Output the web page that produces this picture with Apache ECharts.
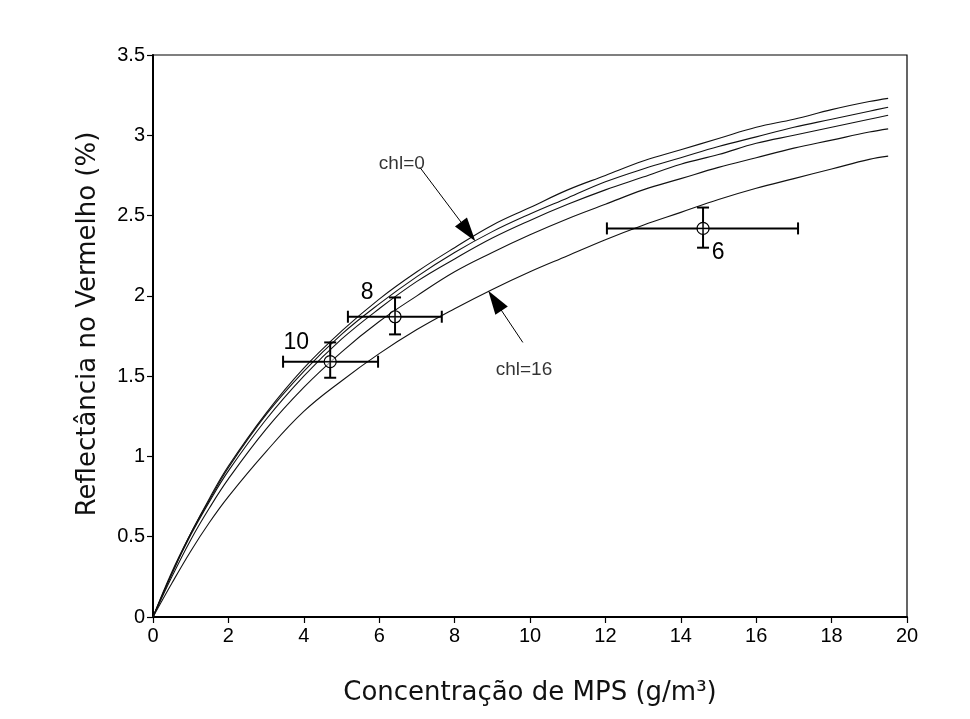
<!DOCTYPE html>
<html>
<head>
<meta charset="utf-8">
<script src="https://cdn.jsdelivr.net/npm/echarts@6/dist/echarts.min.js"></script>
<style>
  html, body { margin: 0; padding: 0; background: #fff; }
  #main { width: 970px; height: 719px; }
</style>
</head>
<body>
<div id="main"></div>
<script>
// concentração de MPS (g/m3)
var mps = [0, 0.5, 1, 1.5, 2, 3, 4, 5, 6, 7, 8, 9, 10, 11, 12, 13, 14, 15, 16, 17, 18, 19, 19.5];
// reflectância (%) das cinco curvas, de chl=0 (topo) até chl=16 (base)
var curva1 = [0, 0.28, 0.52, 0.74, 0.94, 1.27, 1.55, 1.78, 1.98, 2.15, 2.30, 2.44, 2.55, 2.66, 2.75, 2.84, 2.91, 2.98, 3.05, 3.10, 3.16, 3.21, 3.23];
var curva2 = [0, 0.27, 0.52, 0.73, 0.93, 1.26, 1.53, 1.76, 1.95, 2.12, 2.27, 2.40, 2.51, 2.61, 2.71, 2.79, 2.86, 2.93, 2.99, 3.05, 3.10, 3.15, 3.175];
var curva3 = [0, 0.27, 0.51, 0.72, 0.91, 1.23, 1.50, 1.73, 1.92, 2.09, 2.23, 2.36, 2.47, 2.57, 2.66, 2.74, 2.82, 2.88, 2.95, 3.00, 3.05, 3.10, 3.125];
var curva4 = [0, 0.25, 0.48, 0.68, 0.86, 1.17, 1.43, 1.65, 1.84, 2.00, 2.15, 2.27, 2.38, 2.48, 2.57, 2.66, 2.73, 2.80, 2.86, 2.92, 2.97, 3.02, 3.04];
var curva5 = [0, 0.21, 0.41, 0.59, 0.75, 1.03, 1.28, 1.47, 1.64, 1.79, 1.92, 2.04, 2.15, 2.25, 2.35, 2.44, 2.52, 2.60, 2.67, 2.73, 2.79, 2.85, 2.87];

// pontos medidos com barras de erro
var ptNomes = ['10', '8', '6'];
var ptX = [4.70, 6.42, 14.59];
var ptY = [1.59, 1.87, 2.42];
var ptXmin = [3.45, 5.17, 12.04];
var ptXmax = [5.97, 7.66, 17.11];
var ptYmin = [1.49, 1.76, 2.30];
var ptYmax = [1.71, 1.99, 2.55];

// anotações (texto e setas)
var anotTexto = ['chl=0', 'chl=16'];
var anotPos = [[6.60, 2.82], [9.84, 1.54]];
var setaInicio = [[7.08, 2.80], [9.81, 1.71]];
var setaFim = [[8.36, 2.40], [9.07, 1.97]];

var eixoX = { min: 0, max: 20, interval: 2 };
var eixoY = { min: 0, max: 3.5, interval: 0.5 };

function pares(ys) {
  var out = [];
  for (var i = 0; i < mps.length; i++) out.push([mps[i], ys[i]]);
  return out;
}

var curvas = [curva1, curva2, curva3, curva4, curva5];
var series = [];
for (var k = 0; k < curvas.length; k++) {
  series.push({
    name: 'curva' + (k + 1),
    type: 'line',
    data: pares(curvas[k]),
    smooth: 0.4,
    symbol: 'none',
    lineStyle: { color: '#111', width: 1.1 },
    z: 2
  });
}

// setas
var setas = [];
for (var s = 0; s < setaInicio.length; s++) {
  setas.push([{ coord: setaInicio[s] }, { coord: setaFim[s] }]);
}
series[0].markLine = {
  silent: true,
  symbol: ['none', 'triangle'],
  symbolSize: [15, 24],
  label: { show: false },
  lineStyle: { color: '#000', width: 1, type: 'solid' },
  data: setas
};

// pontos com barras de erro
var offsets = [[-34, -19], [-28, -24], [15, 24]];
var ptDados = [];
for (var p = 0; p < ptX.length; p++) {
  ptDados.push([ptX[p], ptY[p], ptXmin[p], ptXmax[p], ptYmin[p], ptYmax[p], p]);
}
series.push({
  type: 'custom',
  data: ptDados,
  z: 5,
  renderItem: function (params, api) {
    var c = api.coord([api.value(0), api.value(1)]);
    var l = api.coord([api.value(2), api.value(1)]);
    var r = api.coord([api.value(3), api.value(1)]);
    var b = api.coord([api.value(0), api.value(4)]);
    var t = api.coord([api.value(0), api.value(5)]);
    var idx = api.value(6);
    var st = { stroke: '#000', lineWidth: 2, fill: null };
    var cap = 6;
    return {
      type: 'group',
      children: [
        { type: 'line', shape: { x1: l[0], y1: l[1], x2: r[0], y2: r[1] }, style: st },
        { type: 'line', shape: { x1: l[0], y1: l[1] - cap, x2: l[0], y2: l[1] + cap }, style: st },
        { type: 'line', shape: { x1: r[0], y1: r[1] - cap, x2: r[0], y2: r[1] + cap }, style: st },
        { type: 'line', shape: { x1: b[0], y1: b[1], x2: t[0], y2: t[1] }, style: st },
        { type: 'line', shape: { x1: b[0] - cap, y1: b[1], x2: b[0] + cap, y2: b[1] }, style: st },
        { type: 'line', shape: { x1: t[0] - cap, y1: t[1], x2: t[0] + cap, y2: t[1] }, style: st },
        { type: 'circle', shape: { cx: c[0], cy: c[1], r: 6 }, style: { stroke: '#000', lineWidth: 1.2, fill: 'rgba(255,255,255,0.6)' } },
        { type: 'line', shape: { x1: c[0] - 6, y1: c[1], x2: c[0] + 6, y2: c[1] }, style: { stroke: '#000', lineWidth: 1.2 } },
        { type: 'line', shape: { x1: c[0], y1: c[1] - 6, x2: c[0], y2: c[1] + 6 }, style: { stroke: '#000', lineWidth: 1.2 } },
        {
          type: 'text',
          style: {
            text: ptNomes[idx], x: c[0] + offsets[idx][0], y: c[1] + offsets[idx][1],
            fill: '#000', font: '23px "Liberation Sans", Arial, sans-serif',
            align: 'center', verticalAlign: 'middle'
          }
        }
      ]
    };
  }
});

// textos das anotações
var anotDados = [];
for (var a = 0; a < anotTexto.length; a++) {
  anotDados.push({ name: anotTexto[a], value: anotPos[a] });
}
series.push({
  type: 'scatter',
  data: anotDados,
  symbolSize: 0,
  silent: true,
  label: {
    show: true,
    position: 'inside',
    formatter: '{b}',
    color: '#000',
    fontSize: 19,
    fontFamily: '"Liberation Sans", Arial, sans-serif'
  }
});

var chart = echarts.init(document.getElementById('main'));
chart.setOption({
  animation: false,
  backgroundColor: '#fff',
  grid: { left: 153, right: 63, top: 55, bottom: 102, show: true, borderColor: '#000', borderWidth: 1.2 },
  xAxis: {
    type: 'value',
    min: eixoX.min, max: eixoX.max, interval: eixoX.interval,
    name: 'Concentração de MPS (g/m³)',
    nameLocation: 'middle',
    nameGap: 63,
    nameTextStyle: { fontSize: 26, color: '#111', fontFamily: '"DejaVu Sans", sans-serif' },
    axisLine: { show: true, onZero: false, lineStyle: { color: '#000', width: 2 } },
    axisTick: { show: true, length: 6, lineStyle: { color: '#000', width: 1.2 } },
    axisLabel: { color: '#000', fontSize: 20, margin: 9, fontFamily: '"Liberation Sans", Arial, sans-serif' },
    splitLine: { show: false }
  },
  yAxis: {
    type: 'value',
    min: eixoY.min, max: eixoY.max, interval: eixoY.interval,
    name: 'Reflectância no Vermelho (%)',
    nameLocation: 'middle',
    nameGap: 52,
    nameTextStyle: { fontSize: 26, color: '#111', fontFamily: '"DejaVu Sans", sans-serif', padding: [0, 0, 0, 24] },
    axisLine: { show: true, onZero: false, lineStyle: { color: '#000', width: 2 } },
    axisTick: { show: true, length: 6, lineStyle: { color: '#000', width: 1.2 } },
    axisLabel: { color: '#000', fontSize: 20, margin: 8, fontFamily: '"Liberation Sans", Arial, sans-serif' },
    splitLine: { show: false }
  },
  series: series
});
</script>
</body>
</html>
